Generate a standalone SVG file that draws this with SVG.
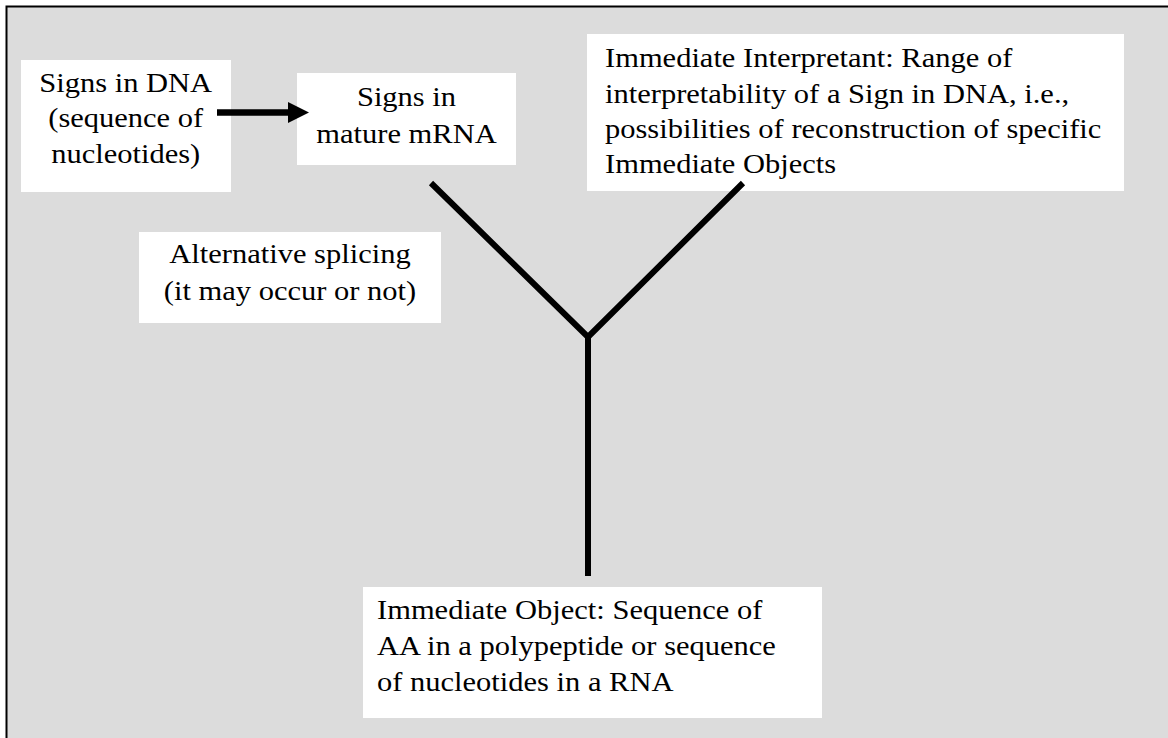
<svg xmlns="http://www.w3.org/2000/svg" width="1168" height="738" viewBox="0 0 1168 738">
<style>
.box{fill:#ffffff;stroke:none}
.t{font-family:"Liberation Serif","Times New Roman",serif;font-size:27px;fill:#000}
.c{text-anchor:middle}
.ln{stroke:#000;stroke-width:6;fill:none}
</style>
<rect x="0" y="0" width="1168" height="738" fill="#ffffff"/>
<rect x="6.5" y="6.5" width="1162" height="732" fill="#dcdcdc"/>
<path d="M6.5,738 V6.5 H1168" fill="none" stroke="#000" stroke-width="2"/>

<g id="node-dna">
<rect class="box" x="21" y="60" width="210" height="132"/>
<g transform="translate(125.7,0) scale(1.13,1)">
<text class="t c" x="0" y="92">Signs in DNA</text>
<text class="t c" x="0" y="127.5">(sequence of</text>
<text class="t c" x="0" y="163">nucleotides)</text>
</g>
</g>

<g id="node-mrna">
<rect class="box" x="297" y="73" width="219" height="92"/>
<g transform="translate(406.5,0) scale(1.13,1)">
<text class="t c" x="0" y="106">Signs in</text>
<text class="t c" x="0" y="143">mature mRNA</text>
</g>
</g>

<g id="node-interpretant">
<rect class="box" x="587" y="34" width="537" height="157"/>
<g transform="translate(605,0) scale(1.13,1)">
<text class="t" x="0" y="67.5">Immediate Interpretant: Range of</text>
<text class="t" x="0" y="103">interpretability of a Sign in DNA, i.e.,</text>
<text class="t" x="0" y="138">possibilities of reconstruction of specific</text>
<text class="t" x="0" y="173">Immediate Objects</text>
</g>
</g>

<g id="node-splicing">
<rect class="box" x="139" y="232" width="302" height="91"/>
<g transform="translate(290,0) scale(1.13,1)">
<text class="t c" x="0" y="263.5">Alternative splicing</text>
<text class="t c" x="0" y="300">(it may occur or not)</text>
</g>
</g>

<g id="node-object">
<rect class="box" x="363" y="587" width="459" height="131"/>
<g transform="translate(377,0) scale(1.13,1)">
<text class="t" x="0" y="619">Immediate Object: Sequence of</text>
<text class="t" x="0" y="655">AA in a polypeptide or sequence</text>
<text class="t" x="0" y="691">of nucleotides in a RNA</text>
</g>
</g>

<g id="connectors">
<line x1="217" y1="112.5" x2="291" y2="112.5" stroke="#000" stroke-width="6.5"/>
<polygon points="288,102 309,112.5 288,123" fill="#000"/>
<polyline class="ln" points="431,183 588,337 743,183" stroke-linejoin="miter"/>
<line class="ln" x1="588" y1="336" x2="588" y2="576"/>
</g>
</svg>
